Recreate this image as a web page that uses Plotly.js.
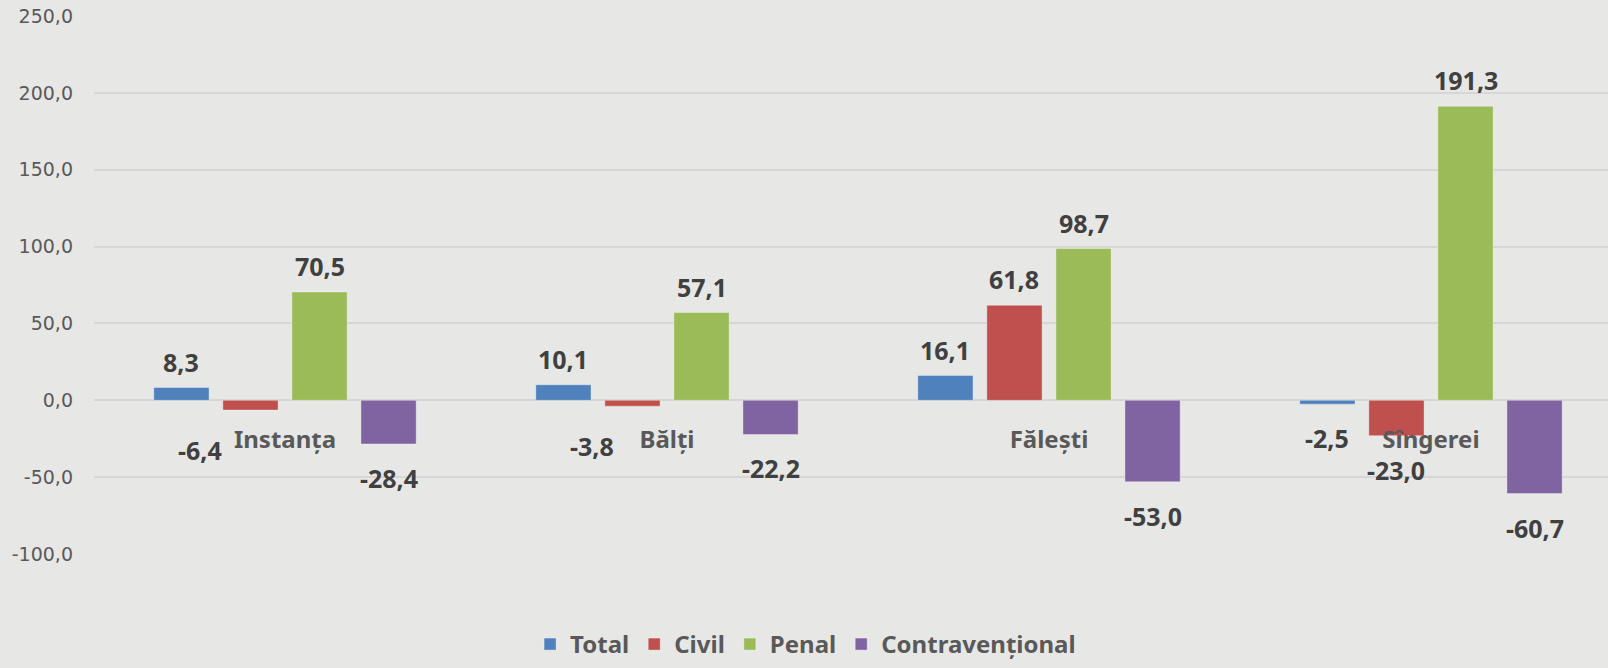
<!DOCTYPE html>
<html>
<head>
<meta charset="utf-8">
<script src="https://cdn.plot.ly/plotly-3.0.1.min.js"></script>
<style>
  html, body { margin: 0; padding: 0; background: #e7e7e6; }
  #chart { width: 1608px; height: 668px; }
</style>
</head>
<body>
<div id="chart"></div>
<script>
// ---- data ----
const categories = ['Instanța', 'Bălți', 'Fălești', 'Sîngerei'];
const seriesNames = ['Total', 'Civil', 'Penal', 'Contravențional'];
const totalValues = [8.3, 10.1, 16.1, -2.5];
const civilValues = [-6.4, -3.8, 61.8, -23.0];
const penalValues = [70.5, 57.1, 98.7, 191.3];
const contravValues = [-28.4, -22.2, -53.0, -60.7];
const yTickVals = [-100, -50, 0, 50, 100, 150, 200, 250];
const yTickText = ['-100,0', '-50,0', '0,0', '50,0', '100,0', '150,0', '200,0', '250,0'];

// ---- style ----
const colors = ['#4f81bd', '#c0504d', '#9bbb59', '#8064a2'];
const W = 1608, H = 668;
const margin = { l: 94, r: 0, t: 16, b: 114, autoexpand: false };
const yRange = [-100, 250];
const xRange = [-0.5, 3.4634];
const bargap = 0.277;
const bargroupgap = 0.2;
// label nudges (px) used in the original to keep labels clear of the category names
const labelNudge = { '1-0': [-50, -6], '1-1': [-40, -6] };

const allSeries = [totalValues, civilValues, penalValues, contravValues];

const traces = allSeries.map((vals, i) => ({
  type: 'bar',
  name: seriesNames[i],
  x: categories,
  y: vals,
  marker: { color: colors[i], line: { color: 'rgba(255,255,255,0.35)', width: 1 } },
  hoverinfo: 'x+y+name'
}));

// data labels, positioned at the bars through the axis scales
const plotW = W - margin.l - margin.r;
const catPx = plotW / (xRange[1] - xRange[0]);
const slotPx = catPx * (1 - bargap) / allSeries.length;
const fmt = v => v.toFixed(1).replace('.', ',');
const annotations = [];
allSeries.forEach((vals, i) => {
  const xs = (i - (allSeries.length - 1) / 2) * slotPx;
  vals.forEach((v, j) => {
    const pos = v >= 0;
    const n = labelNudge[i + '-' + j] || [0, 0];
    annotations.push({
      x: categories[j], y: v, xref: 'x', yref: 'y',
      text: fmt(v), showarrow: false,
      xshift: xs + n[0], yshift: (pos ? 7 : -15) + n[1],
      yanchor: pos ? 'bottom' : 'top', xanchor: 'center',
      font: { family: 'Noto Sans', size: 25, color: '#404040', weight: 'bold' }
    });
  });
});

const layout = {
  width: W, height: H,
  margin: margin,
  paper_bgcolor: '#e7e7e6',
  plot_bgcolor: '#e7e7e6',
  barmode: 'group',
  bargap: bargap,
  bargroupgap: bargroupgap,
  showlegend: true,
  legend: {
    orientation: 'h', x: 0.47, xanchor: 'center', y: -0.21, yanchor: 'bottom',
    font: { family: 'Noto Sans', size: 24, color: '#595959', weight: 'bold' },
    bgcolor: 'rgba(0,0,0,0)', itemclick: false
  },
  xaxis: {
    type: 'category',
    range: xRange,
    anchor: 'free',
    position: (0 - yRange[0]) / (yRange[1] - yRange[0]),
    showgrid: false, zeroline: false, showline: false, ticks: '',
    ticklabelstandoff: 23,
    tickfont: { family: 'Noto Sans', size: 24, color: '#595959', weight: 'bold' },
    fixedrange: true
  },
  yaxis: {
    range: yRange,
    tickvals: yTickVals,
    ticktext: yTickText,
    showgrid: true, gridcolor: '#d6d6d6', gridwidth: 2,
    zeroline: false, showline: false, ticks: '',
    ticklabelstandoff: 20,
    tickfont: { family: 'DejaVu Sans', size: 19, color: '#595959' },
    fixedrange: true
  },
  annotations: annotations
};

Plotly.newPlot('chart', traces, layout, { displayModeBar: false, staticPlot: true });
</script>
</body>
</html>
